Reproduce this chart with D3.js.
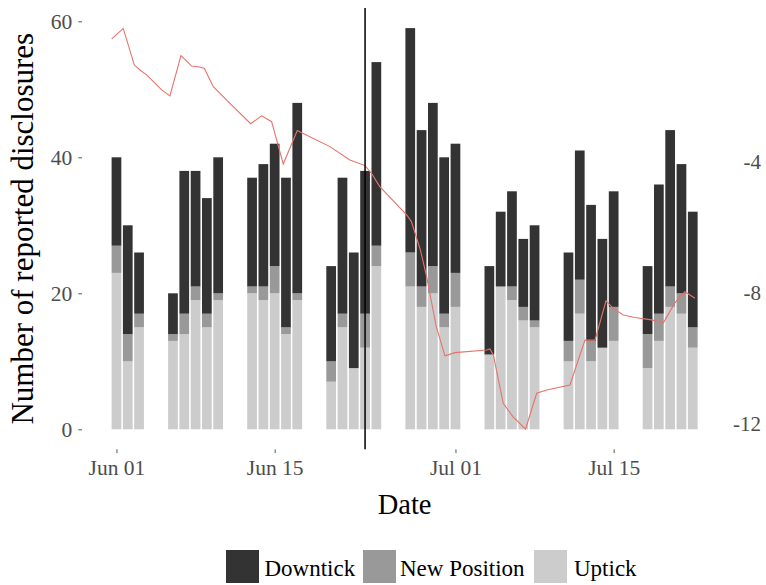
<!DOCTYPE html>
<html>
<head>
<meta charset="utf-8">
<script src="https://cdn.jsdelivr.net/npm/d3@7"></script>
<style>
  html, body { margin: 0; padding: 0; background: #ffffff; }
  svg { display: block; }
</style>
</head>
<body>
<div id="chart"></div>
<script>
// ---------------- DATA ----------------
const dates = [
  "2016-06-01","2016-06-02","2016-06-03",
  "2016-06-06","2016-06-07","2016-06-08","2016-06-09","2016-06-10",
  "2016-06-13","2016-06-14","2016-06-15","2016-06-16","2016-06-17",
  "2016-06-20","2016-06-21","2016-06-22","2016-06-23","2016-06-24",
  "2016-06-27","2016-06-28","2016-06-29","2016-06-30","2016-07-01",
  "2016-07-04","2016-07-05","2016-07-06","2016-07-07","2016-07-08",
  "2016-07-11","2016-07-12","2016-07-13","2016-07-14","2016-07-15",
  "2016-07-18","2016-07-19","2016-07-20","2016-07-21","2016-07-22"
];
const uptick = [23,10,15, 13,14,19,15,19, 20,19,20,14,19, 7,15,9,12,24, 21,18,20,15,18, 11,21,19,16,15, 10,17,10,12,13, 9,13,18,17,12];
const newPosition = [4,4,2, 1,3,2,2,1, 1,2,4,1,1, 3,2,0,5,3, 5,3,4,2,5, 0,0,2,2,1, 3,5,3,0,5, 5,4,3,3,3];
const downtick = [13,16,9, 6,21,17,17,20, 16,18,18,22,28, 14,20,17,21,27, 33,23,24,23,19, 13,11,14,10,14, 13,19,20,16,17, 10,19,23,19,17];

const seriesNames = ["Downtick", "New Position", "Uptick"];
const seriesColors = ["#333333", "#999999", "#cccccc"];

// secondary series (right axis): day offset from 1 Jun 2016, value
const lineDay = [-0.42,0.6,1.58,2.08,2.67,4.0,4.73,5.71,6.65,7.24,7.77,8.57,10.04,11.88,12.85,13.73,14.76,16.0,16.39,18.89,20.66,22.0,22.58,23.3,25.7,26.1,26.9,27.45,28.3,29.07,29.96,32.76,33.05,33.35,34.23,35.1,36.2,37.19,38.07,40.13,41.46,42.35,43.32,43.96,44.85,45.88,47.36,48.4,49.4,50.3,51.2];
const lineVal = [-0.24,0.08,-1.04,-1.19,-1.34,-1.80,-1.98,-0.75,-1.07,-1.09,-1.14,-1.70,-2.21,-2.83,-2.59,-2.77,-4.06,-3.04,-3.11,-3.53,-3.94,-4.11,-4.35,-4.75,-5.62,-5.82,-6.69,-7.50,-9.03,-9.92,-9.82,-9.74,-9.71,-9.89,-11.37,-11.78,-12.16,-11.06,-10.96,-10.81,-9.44,-9.44,-8.24,-8.47,-8.67,-8.75,-8.82,-8.91,-8.31,-7.96,-8.16];

const eventDate = "2016-06-23";
const xTickDates = ["2016-06-01","2016-06-15","2016-07-01","2016-07-15"];
const yTicks = [0, 20, 40, 60];
const yRightTicks = [-4, -8, -12];

// ---------------- LAYOUT ----------------
const W = 766, H = 585;
const DAY = 864e5;
const parse = s => new Date(s + "T00:00:00Z");
const start = parse(dates[0]);
const end = parse(dates[dates.length - 1]);
const pxPerDay = 11.3;
const padDays = 3.05;
const panelLeft = 82;
const panelRight = panelLeft + ((end - start) / DAY + 2 * padDays) * pxPerDay;

const x = d3.scaleUtc()
  .domain([new Date(+start - padDays * DAY), new Date(+end + padDays * DAY)])
  .range([panelLeft, panelRight]);
const y = d3.scaleLinear().domain([0, 60]).range([429.3, 21.3]);
const yR = d3.scaleLinear().domain([-12, -4]).range([424, 162]);
const panelTop = y(61.95), panelBottom = y(-2.95);

const svg = d3.select("#chart").append("svg")
  .attr("width", W).attr("height", H)
  .style("font-family", "'Liberation Serif','Times New Roman',serif");

// ---------------- BARS ----------------
const rows = dates.map((d, i) => ({
  date: parse(d),
  "Uptick": uptick[i], "New Position": newPosition[i], "Downtick": downtick[i]
}));
const stack = d3.stack().keys(["Uptick", "New Position", "Downtick"]);
const stacked = stack(rows);
const color = d3.scaleOrdinal().domain(seriesNames).range(seriesColors);
const barW = 0.86 * pxPerDay;

svg.append("g").selectAll("g").data(stacked).join("g")
  .attr("fill", s => color(s.key))
  .selectAll("rect").data(s => s).join("rect")
  .attr("x", d => x(d.data.date) - barW / 2)
  .attr("width", barW)
  .attr("y", d => y(d[1]))
  .attr("height", d => Math.max(0, y(d[0]) - y(d[1])));

// ---------------- LINE ----------------
const linePts = lineDay.map((d, i) => ({ t: new Date(+start + d * DAY), v: lineVal[i] }));
svg.append("path").datum(linePts)
  .attr("fill", "none")
  .attr("stroke", "#e5736a")
  .attr("stroke-width", 1.1)
  .attr("d", d3.line().x(d => x(d.t)).y(d => yR(d.v)));

// event line
svg.append("line")
  .attr("x1", x(parse(eventDate))).attr("x2", x(parse(eventDate)))
  .attr("y1", panelTop).attr("y2", panelBottom)
  .attr("stroke", "#000").attr("stroke-width", 1.5);

// ---------------- AXES ----------------
const xAxis = d3.axisBottom(x)
  .tickValues(xTickDates.map(parse))
  .tickFormat(d3.utcFormat("%b %d"))
  .tickSize(3.7).tickPadding(7);
const gx = svg.append("g").attr("transform", `translate(0,${panelBottom})`).call(xAxis);
gx.select(".domain").remove();
gx.selectAll("line").attr("stroke", "#555");
gx.selectAll("text").attr("fill", "#4d4d4d")
  .style("font-size", "21.5px").style("font-family", "'Liberation Serif',serif");

const yAxis = d3.axisLeft(y).tickValues(yTicks).tickSize(3.7).tickPadding(6);
const gy = svg.append("g").attr("transform", `translate(${panelLeft},0)`).call(yAxis);
gy.select(".domain").remove();
gy.selectAll("line").attr("stroke", "#555");
gy.selectAll("text").attr("fill", "#4d4d4d")
  .style("font-size", "21.5px").style("font-family", "'Liberation Serif',serif");

svg.append("g").selectAll("text").data(yRightTicks).join("text")
  .attr("x", 761).attr("y", d => yR(d))
  .attr("dy", "0.35em")
  .attr("text-anchor", "end")
  .attr("fill", "#4d4d4d")
  .style("font-size", "21px")
  .text(d => d);

// titles
svg.append("text")
  .attr("x", (panelLeft + panelRight) / 2).attr("y", 514)
  .attr("text-anchor", "middle").attr("fill", "#000")
  .style("font-size", "28.5px").text("Date");
svg.append("text")
  .attr("transform", `translate(33,${(panelTop + panelBottom) / 2}) rotate(-90)`)
  .attr("text-anchor", "middle").attr("fill", "#000")
  .style("font-size", "31px").text("Number of reported disclosures");

// ---------------- LEGEND ----------------
const legendX = [226, 363, 534];
const legendTextGap = [38.5, 37, 40];
const lg = svg.append("g");
seriesNames.forEach((name, i) => {
  lg.append("rect").attr("x", legendX[i]).attr("y", 550)
    .attr("width", 33).attr("height", 33).attr("fill", color(name));
  lg.append("text").attr("x", legendX[i] + legendTextGap[i]).attr("y", 576)
    .attr("fill", "#000").style("font-size", "23px").text(name);
});
</script>
</body>
</html>
